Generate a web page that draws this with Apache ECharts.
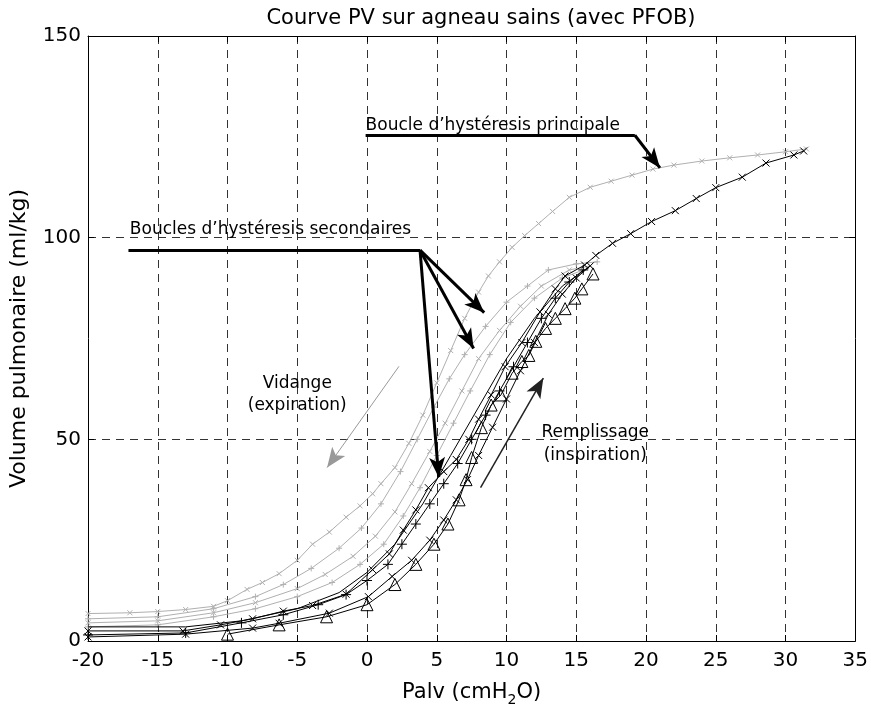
<!DOCTYPE html>
<html>
<head>
<meta charset="utf-8">
<script src="https://cdn.jsdelivr.net/npm/echarts@6/dist/echarts.min.js"></script>
<style>html,body{margin:0;padding:0;background:#fff}#c{width:871px;height:712px}</style>
</head>
<body>
<div id="c"></div>
<script>
// ---- data (Palv cmH2O, volume ml/kg) ----
var xTicks = [-20, 35, 5];
var yTicks = [0, 150, 50];

// black inflation limbs
var inflMain = [[-20,2.5],[-13.2,2.5],[-10.5,4],[-8.2,5.5],[-6,7.4],[-3.9,8.8],[-1.5,11.6],[0.4,17.7],[1.6,21.6],[2.6,27.5],[3.5,32.5],[4.4,38],[5.5,42],[6.4,45],[7.3,50],[8,55],[8.9,61],[9.9,68],[11.1,74],[12.4,81.6],[13.5,87.3],[14.2,90.5],[15.6,93.2],[16.4,95.6],[17.6,98.6],[18.9,101],[20.4,104],[22.1,106.7],[23.6,109.7],[25,112.4],[26.9,115],[28.6,118.5],[30.6,120.5],[31.3,121.5]];
var inflPlus = [[-20,1.5],[-13,2],[-9,4.5],[-6,6.5],[-3.5,9],[-1.5,11.5],[0,15],[1.5,19],[2.5,24],[3.5,29],[4.5,34],[5.5,39],[6.5,44],[7.5,50],[8.5,56],[9.5,62],[10.5,68],[11.5,74],[12.5,80],[13.5,85],[14.5,89],[15.5,92]];
var inflCross = [[-20,1],[-13,1.7],[-8.2,3.2],[-6.3,4.4],[-2.7,6.9],[0.1,11],[1.8,16],[3.2,20],[4.5,25],[5.5,30],[6.4,35],[7.2,40],[8,46],[9,53],[10,60],[11,67],[12,74],[13,81],[14,86],[15,90],[16,93]];
var inflTri = [[-10,1.7],[-6.3,4],[-2.9,6],[0,9],[2,14],[3.5,19],[4.8,24],[5.8,29],[6.6,35],[7.1,40],[7.5,45.5],[8.2,52.9],[8.9,58.5],[9.6,61],[10.4,66.4],[11.1,69.3],[11.6,70.8],[12.1,74.3],[12.8,77.5],[13.5,80],[14.2,82.4],[14.9,85],[15.4,87.3],[16.2,91]];
var deflBlack = [[16,93],[14,88],[12,80],[10,70],[8,58],[6,46],[4,34],[2,24],[0,17],[-2,12],[-5,8],[-9,5],[-13,3.5],[-20,3.5]];

// gray deflation limbs
var deflMain = [[31.5,122],[30,121.3],[28,120.5],[26,119.8],[24,119],[22,118],[20.5,117],[19,115.5],[17.5,114],[16,112.5],[14.5,110],[13.3,106.5],[12.3,103.5],[11.3,100.5],[10.4,97.6],[9.5,94],[8.7,90.5],[8,86.5],[7,80],[6,72],[5,64],[4,56],[3,49],[2,43],[1,39],[0.4,36.5],[-0.5,33.5],[-1.5,30.7],[-2.7,27],[-3.9,24],[-5,20],[-6.3,16.7],[-7.5,14.5],[-8.6,12.8],[-10,10],[-11,8.6],[-13,7.8],[-15,7.3],[-17,7],[-20,6.8]];
var deflSec1 = [[16.5,94],[15,93.5],[13,92],[11.5,88],[10,84],[8.5,78],[7,71],[5.9,65],[4.8,58],[3.6,50],[2.4,42],[1,34],[-0.4,28],[-2,23],[-4,18],[-6,14],[-8,11],[-11,8],[-15,6],[-20,5.5]];
var deflSec2 = [[16,93],[14.5,92],[12.5,88],[11,83],[9.5,77],[8,70],[6.8,62],[5.6,54],[4.5,47],[3.2,39],[2,32],[0.6,26],[-1,21],[-3,16.5],[-5,13],[-8,9.5],[-11,7],[-15,5],[-20,4.5]];
var deflSec3 = [[15.5,92],[14,90],[12,85],[10.3,79],[8.8,71],[7.4,62],[6.2,54],[5,46],[3.8,38],[2.6,31],[1.2,24],[-0.5,19],[-2.5,14.5],[-5,11],[-8,8],[-11,6],[-15,4],[-20,3.5]];

// annotations (data coordinates)
var principalLeader = [[-0.1,125.4],[19.2,125.4],[21,117.3]];
var secondaryLeader = [[-17.1,96.9],[3.8,96.9]];
var secondaryTips = [[8.4,81.4],[7.64,72.5],[5.14,40.6]];
var vidangeArrow = [[2.29,68.1],[-2.86,43]];
var remplArrow = [[8.14,38],[12.64,65.2]];
var texts = [
  {t:"Boucle d\u2019hystéresis principale", p:[-0.1,127.8], align:'left'},
  {t:"Boucles d\u2019hystéresis secondaires", p:[-17,102], align:'left'},
  {t:"Vidange", p:[-5,63.9], align:'center'},
  {t:"(expiration)", p:[-5,58.3], align:'center'},
  {t:"Remplissage", p:[16.36,51.6], align:'center'},
  {t:"(inspiration)", p:[16.36,46], align:'center'}
];

var FONT = '"DejaVu Sans", sans-serif';
var GRAY = '#b0b0b0';
var X = 'path://M0,0L10,10M10,0L0,10';
var PLUS = 'path://M5,0L5,10M0,5L10,5';

function line(data, color, sym, size, w) {
  return {
    type: 'line', data: data, xAxisIndex: 0, yAxisIndex: 0,
    symbol: sym || 'none', symbolSize: size || 6, showAllSymbol: true,
    lineStyle: {color: color, width: w || 1},
    itemStyle: {color: 'none', borderColor: color, borderWidth: 1},
    emphasis: {disabled: true}, silent: true, z: color === GRAY ? 2 : 3
  };
}
function seg(a, b, color, w, arrow) {
  return [{coord: a, symbol: 'none'}, {coord: b, symbol: arrow ? 'arrow' : 'none', symbolSize: arrow ? [12, 20] : 0, lineStyle: {color: color, width: w, type: 'solid'}}];
}

var chart = echarts.init(document.getElementById('c'), null, {renderer: 'canvas'});
var gridDash = {color: '#333', type: [8, 6], width: 1};
var markData = [];
markData.push(seg(principalLeader[0], principalLeader[1], '#000', 3, false));
markData.push(seg(principalLeader[1], principalLeader[2], '#000', 3, true));
markData.push(seg(secondaryLeader[0], secondaryLeader[1], '#000', 3, false));
secondaryTips.forEach(function (t) { markData.push(seg(secondaryLeader[1], t, '#000', 3, true)); });
markData.push(seg(vidangeArrow[0], vidangeArrow[1], '#999', 1, true));
markData.push(seg(remplArrow[0], remplArrow[1], '#222', 1.5, true));

var option = {
  animation: false,
  backgroundColor: '#fff',
  title: {text: 'Courve PV sur agneau sains (avec PFOB)', left: 476, top: 3, textAlign: 'center',
    textStyle: {fontFamily: FONT, fontSize: 21, fontWeight: 'normal', color: '#000'}},
  grid: {left: 86, right: 14, top: 36, bottom: 66, show: false},
  xAxis: [{
    type: 'value', min: xTicks[0], max: xTicks[1], interval: xTicks[2], position: 'bottom',
    name: 'Palv (cmH{s|2}O)', nameLocation: 'middle', nameGap: 37,
    nameTextStyle: {fontFamily: FONT, fontSize: 21, color: '#000', rich: {s: {fontFamily: FONT, fontSize: 14, padding: [15, 0, 0, 0]}}},
    axisLine: {show: true, onZero: false, lineStyle: {color: '#000', width: 1}},
    axisTick: {show: true, inside: true, length: 6, lineStyle: {color: '#000'}},
    axisLabel: {fontFamily: FONT, fontSize: 20, color: '#000', margin: 10},
    splitLine: {show: true, lineStyle: gridDash}
  }, {
    type: 'value', min: xTicks[0], max: xTicks[1], interval: xTicks[2], position: 'top',
    axisLine: {show: true, onZero: false, lineStyle: {color: '#000', width: 1}},
    axisTick: {show: true, inside: true, length: 6, lineStyle: {color: '#000'}},
    axisLabel: {show: false}, splitLine: {show: false}
  }],
  yAxis: [{
    type: 'value', min: yTicks[0], max: yTicks[1], interval: yTicks[2], position: 'left',
    name: 'Volume pulmonaire (ml/kg)', nameLocation: 'middle', nameGap: 58, nameRotate: 90,
    nameTextStyle: {fontFamily: FONT, fontSize: 22, color: '#000'},
    axisLine: {show: true, onZero: false, lineStyle: {color: '#000', width: 1}},
    axisTick: {show: true, inside: true, length: 6, lineStyle: {color: '#000'}},
    axisLabel: {fontFamily: FONT, fontSize: 20, color: '#000', margin: 7},
    splitLine: {show: true, lineStyle: gridDash}
  }, {
    type: 'value', min: yTicks[0], max: yTicks[1], interval: yTicks[2], position: 'right',
    axisLine: {show: true, onZero: false, lineStyle: {color: '#000', width: 1}},
    axisTick: {show: true, inside: true, length: 6, lineStyle: {color: '#000'}},
    axisLabel: {show: false}, splitLine: {show: false}
  }],
  series: [
    line(deflMain, GRAY, X, 5),
    line(deflSec1, GRAY, PLUS, 6),
    line(deflSec2, GRAY, X, 5),
    line(deflSec3, GRAY, PLUS, 6),
    line(deflBlack, '#000', 'none'),
    line(inflTri, '#000', 'triangle', 12),
    line(inflCross, '#000', X, 7),
    line(inflPlus, '#000', PLUS, 10),
    line(inflMain, '#000', X, 7),
    {type: 'line', data: [], xAxisIndex: 0, yAxisIndex: 0, silent: true, z: 5,
      markLine: {silent: true, animation: false, symbol: ['none', 'none'], label: {show: false},
        emphasis: {disabled: true}, data: markData}}
  ]
};
chart.setOption(option);

var g = texts.map(function (o) {
  var p = chart.convertToPixel({xAxisIndex: 0, yAxisIndex: 0}, o.p);
  return {type: 'text', x: p[0], y: p[1], z: 10, silent: true,
    style: {text: o.t, fontFamily: FONT, fontSize: 17, fill: '#000', align: o.align, verticalAlign: 'middle'}};
});
chart.setOption({graphic: g});
</script>
</body>
</html>
